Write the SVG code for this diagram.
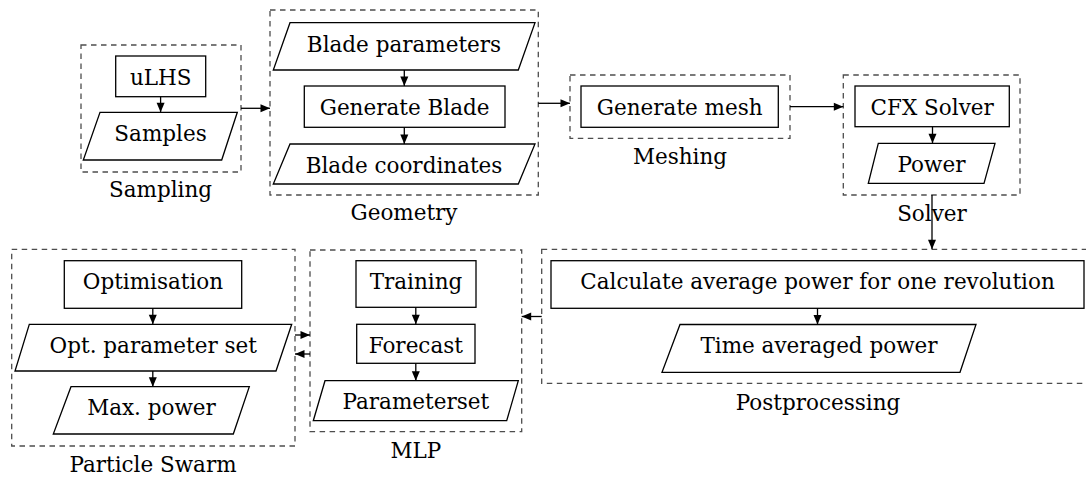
<svg xmlns="http://www.w3.org/2000/svg" width="1086" height="479" viewBox="0 0 1086 479">
<style>
.grp{fill:none;stroke:#4d4d4d;stroke-width:1.3;stroke-dasharray:5.5 4.5}
.nd{fill:#fff;stroke:#000;stroke-width:1.3}
text{font-family:'DejaVu Serif',serif;font-size:21.5px;fill:#000;text-anchor:middle}
.c{fill:none;stroke:#000;stroke-width:1.3}
</style>
<defs>
<marker id="ah" markerUnits="userSpaceOnUse" markerWidth="12" markerHeight="12" refX="10" refY="6" orient="auto">
<path d="M0.5,2 L10,6 L0.5,10 Z" fill="#000"/>
</marker>
</defs>
<rect width="1086" height="479" fill="#fff"/>

<g id="sampling">
<rect class="grp" x="81" y="45" width="160" height="127"/>
<rect class="nd" x="115.7" y="56" width="90" height="40.7"/>
<text x="160.7" y="84.5">uLHS</text>
<polygon class="nd" points="100,112.3 237.3,112.3 221.7,160 83.3,160"/>
<text x="160.5" y="141">Samples</text>
<text x="160.5" y="197">Sampling</text>
</g>

<g id="geometry">
<rect class="grp" x="270" y="10" width="268.3" height="185"/>
<polygon class="nd" points="290,22.7 535,22.7 518.3,70 273.3,70"/>
<text x="404" y="51.5">Blade parameters</text>
<rect class="nd" x="304.3" y="86" width="200.7" height="41.3"/>
<text x="404.6" y="114.5">Generate Blade</text>
<polygon class="nd" points="290,144 535,144 518.3,184 273.3,184"/>
<text x="404" y="172.5">Blade coordinates</text>
<text x="404" y="220">Geometry</text>
</g>

<g id="meshing">
<rect class="grp" x="570" y="75" width="220" height="63.3"/>
<rect class="nd" x="581" y="86" width="197.3" height="41.3"/>
<text x="679.7" y="114.5">Generate mesh</text>
<text x="680" y="163.5">Meshing</text>
</g>

<g id="solver">
<rect class="grp" x="843.3" y="75" width="176.7" height="120"/>
<rect class="nd" x="855" y="86" width="154.3" height="40.7"/>
<text x="932.2" y="114.5">CFX Solver</text>
<polygon class="nd" points="878.3,143.3 995,143.3 984,183.3 868.3,183.3"/>
<text x="931.5" y="171.8">Power</text>
<text x="932" y="221">Solver</text>
</g>

<g id="postprocessing">
<rect class="grp" x="541.7" y="249.3" width="553.3" height="134"/>
<rect class="nd" x="551" y="260.7" width="533" height="47.6"/>
<text x="817.5" y="289.3">Calculate average power for one revolution</text>
<polygon class="nd" points="680,324.5 976,324.5 960,372.3 662,372.3"/>
<text x="819" y="353">Time averaged power</text>
<text x="818" y="409.5">Postprocessing</text>
</g>

<g id="mlp">
<rect class="grp" x="310" y="250" width="211.7" height="181.7"/>
<rect class="nd" x="356" y="260.7" width="120" height="46.6"/>
<text x="416" y="289.3">Training</text>
<rect class="nd" x="356.7" y="324.3" width="118.3" height="39"/>
<text x="415.8" y="352.8">Forecast</text>
<polygon class="nd" points="325,380.7 518.3,380.7 506.7,420.7 313.3,420.7"/>
<text x="415.8" y="409.2">Parameterset</text>
<text x="415.8" y="458">MLP</text>
</g>

<g id="particle-swarm">
<rect class="grp" x="11.7" y="249.3" width="283.3" height="196.7"/>
<rect class="nd" x="64.3" y="260.7" width="177.4" height="47.6"/>
<text x="153" y="289.3">Optimisation</text>
<polygon class="nd" points="29.3,324.3 291.7,324.3 276,371 15,371"/>
<text x="153.3" y="352.8">Opt. parameter set</text>
<polygon class="nd" points="71,386.7 249.3,386.7 233.3,434 53.3,434"/>
<text x="151.5" y="415.3">Max. power</text>
<text x="153" y="472">Particle Swarm</text>
</g>

<g id="connectors">
<line class="c" x1="160.6" y1="96.7" x2="160.6" y2="112.3" marker-end="url(#ah)"/>
<line class="c" x1="404.3" y1="70" x2="404.3" y2="86" marker-end="url(#ah)"/>
<line class="c" x1="404.3" y1="127.3" x2="404.3" y2="144" marker-end="url(#ah)"/>
<line class="c" x1="932.5" y1="126.7" x2="932.5" y2="143.3" marker-end="url(#ah)"/>
<line class="c" x1="817.5" y1="308.3" x2="817.5" y2="324.5" marker-end="url(#ah)"/>
<line class="c" x1="415.8" y1="307.3" x2="415.8" y2="324.3" marker-end="url(#ah)"/>
<line class="c" x1="415.8" y1="363.3" x2="415.8" y2="380.7" marker-end="url(#ah)"/>
<line class="c" x1="152.8" y1="308.3" x2="152.8" y2="324.3" marker-end="url(#ah)"/>
<line class="c" x1="152.8" y1="371" x2="152.8" y2="386.7" marker-end="url(#ah)"/>
<line class="c" x1="241" y1="108.3" x2="270" y2="108.3" marker-end="url(#ah)"/>
<line class="c" x1="538.3" y1="103.3" x2="570" y2="103.3" marker-end="url(#ah)"/>
<line class="c" x1="790" y1="106.7" x2="843.3" y2="106.7" marker-end="url(#ah)"/>
<line class="c" x1="932" y1="195" x2="932" y2="249.3" marker-end="url(#ah)"/>
<line class="c" x1="541.7" y1="316.5" x2="521.7" y2="316.5" marker-end="url(#ah)"/>
<line class="c" x1="295" y1="335" x2="310" y2="335" marker-end="url(#ah)"/>
<line class="c" x1="310" y1="354" x2="295" y2="354" marker-end="url(#ah)"/>
</g>
</svg>
